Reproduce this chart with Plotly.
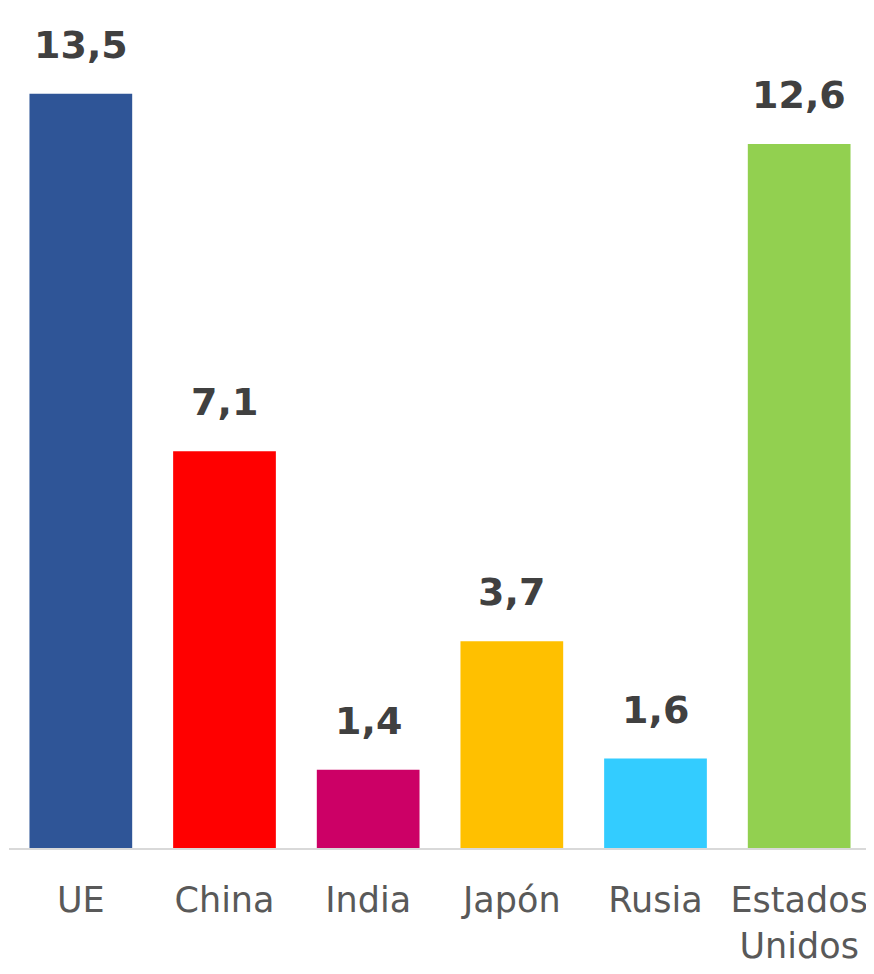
import plotly.graph_objects as go

categories = ["UE", "China", "India", "Japón", "Rusia", "Estados<br>Unidos"]
values = [13.5, 7.1, 1.4, 3.7, 1.6, 12.6]
colors = ["#2F5597", "#FF0000", "#CC0066", "#FFC000", "#33CCFF", "#92D050"]
value_labels = ["13,5", "7,1", "1,4", "3,7", "1,6", "12,6"]

FONT = "DejaVu Sans, sans-serif"

fig = go.Figure(go.Bar(
    x=categories, y=values, marker=dict(color=colors, line=dict(width=0)),
    width=0.715,
))

for c, v, t in zip(categories, values, value_labels):
    fig.add_annotation(x=c, y=v, text=t, showarrow=False, yanchor="bottom",
                       yshift=25, font=dict(family=FONT, size=38, color="#404040", weight="bold"))

# page body has an 8px margin, so the figure is sized to fit the window
fig.update_layout(
    width=866, height=966,
    margin=dict(l=1, r=3, t=2, b=126),
    paper_bgcolor="white", plot_bgcolor="white",
    showlegend=False,
    xaxis=dict(showline=True, linecolor="#D9D9D9", linewidth=2, ticks="outside",
               ticklen=20, tickcolor="rgba(0,0,0,0)", automargin=False,
               range=[-0.5, 5.5],
               tickfont=dict(family=FONT, size=35, color="#595959")),
    yaxis=dict(range=[0, 15], visible=False, showgrid=False, zeroline=False,
               automargin=False),
)

fig.write_html("out.html")
